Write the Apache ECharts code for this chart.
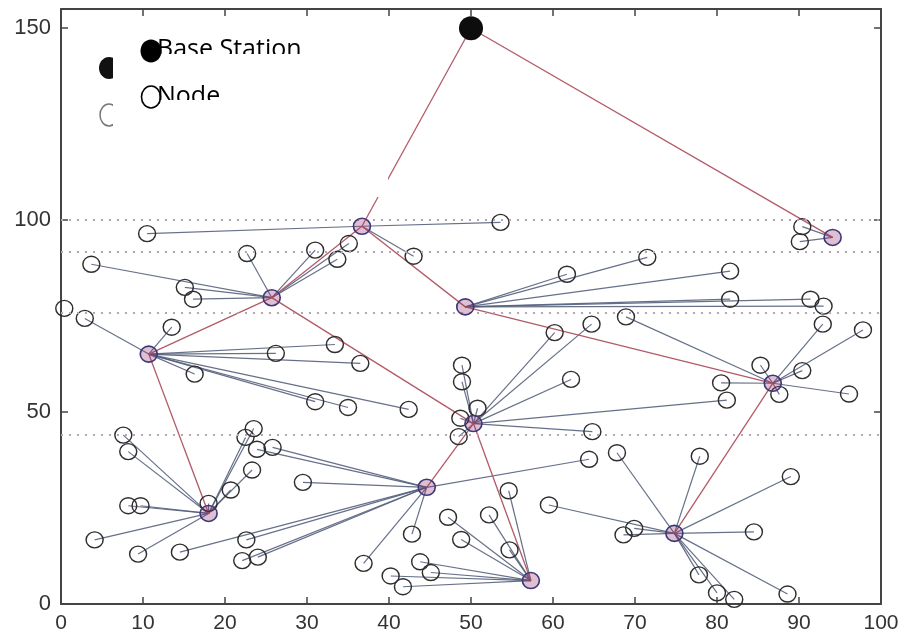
<!DOCTYPE html>
<html>
<head>
<meta charset="utf-8">
<script src="https://cdn.jsdelivr.net/npm/echarts@6/dist/echarts.min.js"></script>
<style>
  html, body { margin: 0; padding: 0; background: #fff; }
  #chart { width: 904px; height: 639px; }
</style>
</head>
<body>
<div id="chart"></div>
<script>
// base station and cluster heads
const baseStation = [50, 150];
const headNames = ["A", "B", "C", "D", "E", "F", "G", "H", "I", "J", "K"];
const headPos = {
  A: [36.7, 98.4], B: [25.7, 79.8], C: [10.7, 65.1], D: [49.3, 77.4],
  E: [86.8, 57.5], F: [50.3, 47.0], G: [18.0, 23.6], H: [44.6, 30.4],
  I: [57.3, 6.1], J: [74.8, 18.4], K: [94.1, 95.5]
};
// routes between heads (red)
const routes = [
  ["BS", "A"], ["BS", "K"], ["A", "B"], ["A", "D"], ["B", "C"], ["B", "F"],
  ["C", "G"], ["D", "E"], ["E", "J"], ["F", "H"], ["F", "I"]
];
// member nodes of every head
const membersA = [[10.5, 96.5], [53.6, 99.4], [43.0, 90.6]];
const membersB = [[3.7, 88.5], [15.1, 82.5], [16.1, 79.4], [22.7, 91.3], [31.0, 92.2], [33.7, 89.8], [35.1, 93.9]];
const membersC = [[2.9, 74.4], [13.5, 72.1], [26.2, 65.3], [33.4, 67.6], [36.5, 62.7], [16.3, 59.9], [31.0, 52.7], [35.0, 51.2], [42.4, 50.7]];
const membersD = [[71.5, 90.3], [61.7, 85.9], [81.6, 86.7], [81.6, 79.4], [91.4, 79.4], [93.0, 77.6]];
const membersE = [[68.9, 74.8], [92.9, 72.9], [97.8, 71.4], [85.3, 62.2], [80.5, 57.6], [90.4, 60.8], [87.6, 54.6], [96.1, 54.7]];
const membersF = [[48.9, 62.2], [48.9, 57.9], [50.8, 51.0], [48.7, 48.4], [48.5, 43.6], [62.2, 58.5], [64.8, 44.9], [60.2, 70.7], [64.7, 72.9], [81.2, 53.1]];
const membersG = [[7.6, 44.0], [8.2, 39.7], [23.5, 45.7], [22.5, 43.4], [23.3, 34.9], [20.7, 29.7], [18.0, 26.2], [8.2, 25.6], [9.7, 25.6], [4.1, 16.7], [9.4, 13.0]];
const membersH = [[23.9, 40.3], [25.8, 40.8], [29.5, 31.7], [14.5, 13.5], [22.6, 16.7], [22.1, 11.3], [24.0, 12.2], [36.9, 10.6], [42.8, 18.2], [64.4, 37.7]];
const membersI = [[54.6, 29.5], [47.2, 22.6], [52.2, 23.2], [48.8, 16.8], [54.7, 14.1], [43.8, 11.0], [45.1, 8.2], [40.2, 7.3], [41.7, 4.5]];
const membersJ = [[67.8, 39.4], [77.9, 38.5], [89.0, 33.2], [59.5, 25.8], [68.6, 18.0], [69.9, 19.7], [84.5, 18.8], [77.8, 7.6], [80.0, 2.9], [82.1, 1.2], [88.6, 2.6]];
const membersK = [[90.4, 98.3], [90.1, 94.4]];
const isolated = [[0.4, 77.0]];
// dotted levels
const dotLevels = [100, 91.7, 76, 44];
const xTicks = [0, 100, 10];
const yTicks = [0, 155, 50];

const membersByHead = {
  A: membersA, B: membersB, C: membersC, D: membersD, E: membersE, F: membersF,
  G: membersG, H: membersH, I: membersI, J: membersJ, K: membersK
};

const pos = (n) => (n === "BS" ? baseStation : headPos[n]);

let memberLines = [];
let nodes = [];
headNames.forEach((h) => {
  membersByHead[h].forEach((p) => {
    memberLines.push({ coords: [p, headPos[h]] });
    nodes.push(p);
  });
});
isolated.forEach((p) => nodes.push(p));
const routeLines = routes.map((r) => ({ coords: [pos(r[0]), pos(r[1])] }));
const heads = headNames.map((h) => headPos[h]);

const axisCol = "#444";
const labelFont = { fontFamily: "Liberation Sans", color: "#333" };

const chart = echarts.init(document.getElementById("chart"));
chart.setOption({
  animation: false,
  backgroundColor: "#fff",
  grid: { left: 61, right: 23, top: 9, bottom: 35 },
  xAxis: [
    {
      type: "value", min: xTicks[0], max: xTicks[1], interval: xTicks[2], position: "bottom",
      axisLine: { onZero: false, lineStyle: { color: axisCol, width: 2 } },
      axisTick: { inside: true, length: 7, lineStyle: { color: axisCol, width: 1.5 } },
      axisLabel: Object.assign({ fontSize: 21, margin: 9 }, labelFont),
      splitLine: { show: false }
    },
    {
      type: "value", min: xTicks[0], max: xTicks[1], interval: xTicks[2], position: "top",
      axisLine: { onZero: false, lineStyle: { color: axisCol, width: 2 } },
      axisTick: { inside: true, length: 7, lineStyle: { color: axisCol, width: 1.5 } },
      axisLabel: { show: false },
      splitLine: { show: false }
    }
  ],
  yAxis: [
    {
      type: "value", min: yTicks[0], max: yTicks[1], interval: yTicks[2], position: "left",
      axisLine: { onZero: false, lineStyle: { color: axisCol, width: 2 } },
      axisTick: { inside: true, length: 7, lineStyle: { color: axisCol, width: 1.5 } },
      axisLabel: Object.assign({ fontSize: 22, margin: 10, showMaxLabel: false }, labelFont),
      splitLine: { show: false }
    },
    {
      type: "value", min: yTicks[0], max: yTicks[1], interval: yTicks[2], position: "right",
      axisLine: { onZero: false, lineStyle: { color: axisCol, width: 2 } },
      axisTick: { inside: true, length: 7, lineStyle: { color: axisCol, width: 1.5 } },
      axisLabel: { show: false },
      splitLine: { show: false }
    }
  ],
  series: [
    {
      name: "links",
      type: "lines",
      coordinateSystem: "cartesian2d",
      data: memberLines,
      lineStyle: { color: "#55607c", width: 1.2, opacity: 0.9 },
      z: 2,
      markLine: {
        silent: true,
        symbol: "none",
        label: { show: false },
        lineStyle: { color: "#b9a4b4", type: [2, 6], width: 2 },
        data: dotLevels.map((v) => ({ yAxis: v }))
      }
    },
    {
      name: "routes",
      type: "lines",
      coordinateSystem: "cartesian2d",
      data: routeLines,
      lineStyle: { color: "#b35a68", width: 1.3, opacity: 1 },
      z: 3
    },
    {
      name: "Node",
      type: "scatter",
      data: nodes,
      symbol: "circle",
      symbolSize: [17, 16],
      itemStyle: { color: "rgba(0,0,0,0)", borderColor: "#2e2e2e", borderWidth: 1.4, opacity: 1 },
      z: 4
    },
    {
      name: "Cluster Head",
      type: "scatter",
      data: heads,
      symbol: "circle",
      symbolSize: [17, 16],
      itemStyle: { color: "rgba(150,45,110,0.3)", borderColor: "#3d3878", borderWidth: 1.6, opacity: 1 },
      z: 5
    },
    {
      name: "Base Station",
      type: "scatter",
      data: [baseStation],
      symbol: "circle",
      symbolSize: 24,
      itemStyle: { color: "#0d0d0d", opacity: 1 },
      z: 6
    }
  ],
  graphic: [
    // remains of the old legend
    { type: "ellipse", shape: { cx: 109, cy: 68, rx: 10, ry: 11 }, style: { fill: "#111" }, z: 40 },
    { type: "ellipse", shape: { cx: 109, cy: 115, rx: 9, ry: 11 }, style: { fill: "none", stroke: "#777", lineWidth: 1.5 }, z: 40 },
    // white box over it
    { type: "rect", shape: { x: 113, y: 17, width: 275, height: 180 }, style: { fill: "#fff" }, z: 50 },
    // new legend
    { type: "text", x: 157, y: 37, style: { text: "Base Station", font: "25px 'Open Sans'", fill: "#000" }, z: 60 },
    { type: "text", x: 157, y: 84, style: { text: "Node", font: "25px 'Open Sans'", fill: "#000" }, z: 60 },
    { type: "rect", shape: { x: 160, y: 54, width: 160, height: 10 }, style: { fill: "#fff" }, z: 61 },
    { type: "rect", shape: { x: 160, y: 100, width: 80, height: 10 }, style: { fill: "#fff" }, z: 61 },
    { type: "ellipse", shape: { cx: 151, cy: 51, rx: 10.5, ry: 11.5 }, style: { fill: "#000" }, z: 62 },
    { type: "ellipse", shape: { cx: 151, cy: 97, rx: 9.5, ry: 11 }, style: { fill: "none", stroke: "#000", lineWidth: 1.6 }, z: 62 }
  ]
});
</script>
</body>
</html>
